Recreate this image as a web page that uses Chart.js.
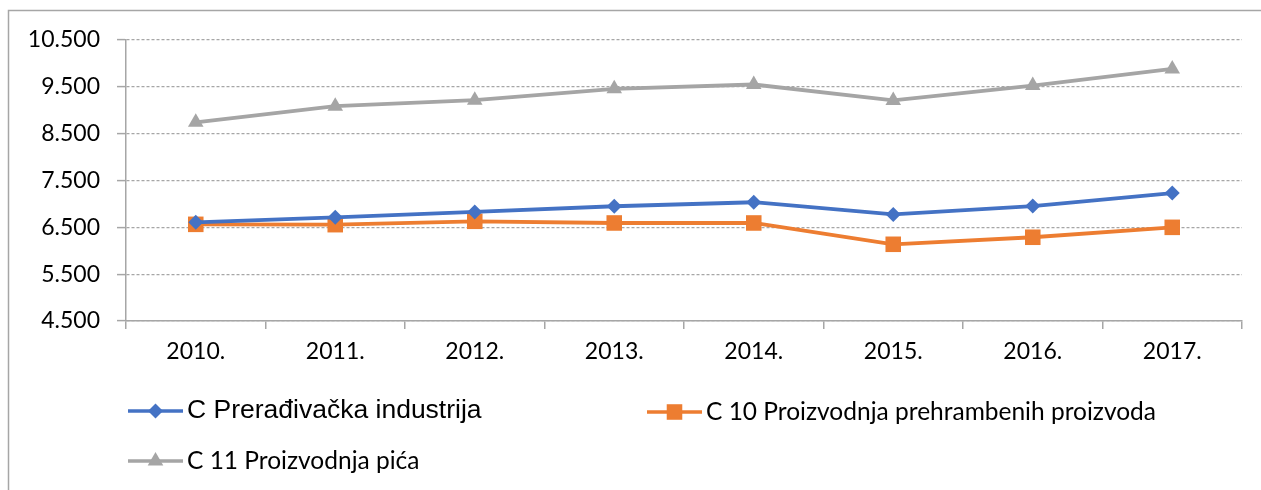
<!DOCTYPE html>
<html><head><meta charset="utf-8">
<script src="https://cdn.jsdelivr.net/npm/chart.js@4/dist/chart.umd.min.js"></script>
<style>html,body{margin:0;padding:0;background:#fff;} #wrap{width:1261px;height:490px;position:relative}</style>
</head><body><div id="wrap"><canvas id="c" width="1261" height="490"></canvas></div>
<script>
const categories = ['2010.','2011.','2012.','2013.','2014.','2015.','2016.','2017.'];
const seriesNames = ['C Prerađivačka industrija','C 10 Proizvodnja prehrambenih proizvoda','C 11 Proizvodnja pića'];
const preradjivacka = [6607,6714,6829,6950,7036,6776,6954,7231];
const prehrambeni = [6564,6557,6629,6593,6593,6138,6288,6500];
const pica = [8743,9086,9214,9457,9550,9209,9528,9883];
const yMin = 4500, yMax = 10500, yStep = 1000;

const colors = ['#4472C4','#ED7D31','#A5A5A5'];
const styles = ['rectRot','rect','triangle'];
const radii = [7.5,11,9];
const gridColor = '#a6a6a6';
const TICK_FONT = 'Lato';

function fmt(v){ return String(v).replace(/\B(?=(\d{3})+(?!\d))/g,'.'); }

function marker(ctx, style, x, y, r, color){
  ctx.save(); ctx.fillStyle = color; ctx.beginPath();
  if(style==='rectRot'){ ctx.moveTo(x,y-r); ctx.lineTo(x+r,y); ctx.lineTo(x,y+r); ctx.lineTo(x-r,y); }
  else if(style==='rect'){ const s=r/Math.SQRT2; ctx.rect(x-s,y-s,2*s,2*s); }
  else { const a=-Math.PI/2; for(let i=0;i<3;i++){ const t=a+i*2*Math.PI/3; const px=x+Math.cos(t)*r, py=y+Math.sin(t)*r; if(i===0) ctx.moveTo(px,py); else ctx.lineTo(px,py);} }
  ctx.closePath(); ctx.fill(); ctx.restore();
}

const legendItems = [
  {x:128, y:411, font:'26.5px "Liberation Sans", Arial, sans-serif'},
  {x:647, y:412, font:'24.5px Lato, sans-serif'},
  {x:128, y:461, font:'24.5px Lato, sans-serif'}
];

const framePlugin = {
  id:'frame',
  beforeDraw(chart){
    const ctx = chart.ctx; ctx.save();
    ctx.strokeStyle = gridColor; ctx.lineWidth = 1.5;
    ctx.beginPath(); ctx.moveTo(8.5,490); ctx.lineTo(8.5,10.5); ctx.lineTo(1261,10.5); ctx.stroke();
    ctx.restore();
  },
  afterDraw(chart){
    const ctx = chart.ctx;
    chart.data.datasets.forEach((ds,i)=>{
      const it = legendItems[i];
      ctx.save();
      ctx.strokeStyle = ds.borderColor; ctx.lineWidth = 3.5;
      ctx.beginPath(); ctx.moveTo(it.x,it.y); ctx.lineTo(it.x+55,it.y); ctx.stroke();
      marker(ctx, ds.pointStyle, it.x+27.5, it.y, ds.pointRadius, ds.borderColor);
      ctx.fillStyle = '#000'; ctx.font = it.font; ctx.textBaseline = 'middle'; ctx.textAlign='left';
      ctx.fillText(ds.label, it.x+59, it.y);
      ctx.restore();
    });
  }
};

const seriesData = [preradjivacka, prehrambeni, pica];
const datasets = seriesData.map((d,i)=>({
  label: seriesNames[i], data: d,
  borderColor: colors[i], backgroundColor: colors[i],
  borderWidth: 3.8, pointStyle: styles[i], pointRadius: radii[i], pointHoverRadius: radii[i],
  pointBorderWidth: 0, pointBackgroundColor: colors[i], tension: 0
}));
datasets[0].order = 1; datasets[1].order = 2; datasets[2].order = 3;

new Chart(document.getElementById('c'), {
  type:'line',
  data:{ labels: categories, datasets },
  options:{
    responsive:false, animation:false, devicePixelRatio:1,
    layout:{ padding:{ left:0, top:40, right:19, bottom:129 } },
    plugins:{ legend:{display:false}, tooltip:{enabled:false} },
    scales:{
      x:{
        offset:true,
        afterFit(s){ s.height = 40; },
        grid:{ display:true, drawOnChartArea:false, drawTicks:true, tickLength:8, color:gridColor, lineWidth:1.5, offset:true },
        border:{ display:true, color:gridColor, width:1.5 },
        ticks:{ font:{family:TICK_FONT, size:23}, color:'#000', padding:9, maxRotation:0 }
      },
      y:{
        min:yMin, max:yMax,
        afterFit(s){ s.width = 126; },
        afterBuildTicks(s){ const t=[]; for(let v=yMin; v<=yMax; v+=yStep) t.push({value:v}); s.ticks=t; },
        grid:{ color:gridColor, lineWidth:1.2, tickBorderDash:[], tickLength:9, tickWidth:1.5 },
        border:{ display:true, color:gridColor, width:1.5, dash:[3,2] },
        ticks:{ font:{family:TICK_FONT, size:23}, color:'#000', padding:17, callback:(v)=>fmt(v) }
      }
    }
  },
  plugins:[framePlugin]
});
</script></body></html>
